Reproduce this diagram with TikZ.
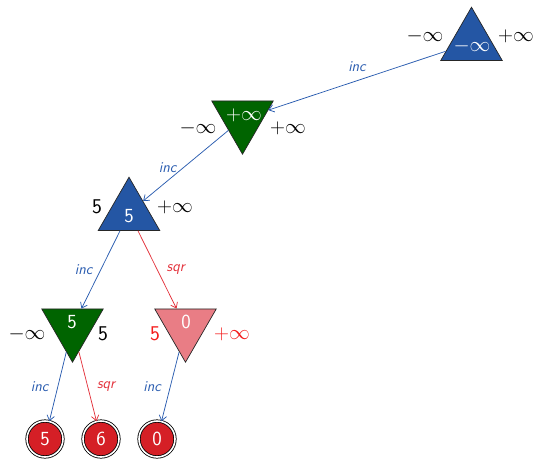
\documentclass[tikz,border=0pt]{standalone}
\usetikzlibrary{shapes.geometric,arrows.meta}
\definecolor{triblue}{HTML}{2456A4}
\definecolor{trigreen}{HTML}{006400}
\definecolor{tripink}{HTML}{E97D85}
\definecolor{leafred}{HTML}{D51F26}
\definecolor{edgeblue}{HTML}{2B5DB0}
\definecolor{edgered}{HTML}{E3323C}
\definecolor{sidered}{HTML}{F41C1C}
\tikzset{
  tri/.style={regular polygon, regular polygon sides=3, minimum size=71pt, inner sep=0pt, draw=black!85, line width=0.7pt},
  triup/.style={tri},
  tridown/.style={tri, shape border rotate=180},
  inlab/.style={text=white, font=\sffamily\fontsize{20}{24}\selectfont},
  sidelab/.style={font=\sffamily\fontsize{21}{25}\selectfont},
  leaf/.style={circle, minimum size=36pt, inner sep=0pt, fill=leafred, draw=black, line width=0.8pt, double=white, double distance=1.6pt, text=white, font=\sffamily\fontsize{20}{24}\selectfont},
  tipstyle/.style={-{Straight Barb[length=5pt,width=7.5pt]}, line width=0.75pt},
  bedge/.style={tipstyle, draw=edgeblue},
  redge/.style={tipstyle, draw=edgered},
  elab/.style={font=\sffamily\itshape\fontsize{15}{18}\selectfont, inner sep=0pt},
}
\begin{document}
\begin{tikzpicture}[x=1pt,y=-1pt]
\useasboundingbox (0,0) rectangle (535,461);
% triangles
\node[triup, fill=triblue] (r) at (471.5,42.7) {};
\node[tridown, fill=trigreen] (a) at (242.5,118.7) {};
\node[triup, fill=triblue] (b) at (129,212.7) {};
\node[tridown, fill=trigreen] (c) at (72.5,326.7) {};
\node[tridown, fill=tripink] (d) at (185.5,326.7) {};
% inner labels
\node[inlab] (rt) at (472,46) {$-\infty$};
\node[inlab] (at) at (244,115) {$+\infty$};
\node[inlab] (bt) at (129,216) {5};
\node[inlab] (ct) at (72,322) {5};
\node[inlab] (dt) at (186,322) {0};
% side labels
\node[sidelab] (rl) at (425,36) {$-\infty$};
\node[sidelab] (rr) at (516,36) {$+\infty$};
\node[sidelab] (al) at (198,128) {$-\infty$};
\node[sidelab] (ar) at (288,128) {$+\infty$};
\node[sidelab] (bl) at (97,207) {5};
\node[sidelab] (br) at (175,207) {$+\infty$};
\node[sidelab] (cl) at (27,334) {$-\infty$};
\node[sidelab] (cr) at (103,334) {5};
\node[sidelab, text=sidered] (dl) at (155,334) {5};
\node[sidelab, text=sidered] (dr) at (232,334) {$+\infty$};
% leaves
\node[leaf] (l1) at (45,439) {5};
\node[leaf] (l2) at (101,439) {6};
\node[leaf] (l3) at (157,439) {0};
% edges
\draw[bedge] (r) -- node[elab, text=edgeblue, midway, above=9pt] {inc} (a);
\draw[bedge] (a) -- node[elab, text=edgeblue, midway, left=9pt, yshift=-2pt] {inc} (b);
\draw[bedge] (b) -- node[elab, text=edgeblue, midway, left=8pt] {inc} (c);
\draw[redge] (b) -- node[elab, text=edgered, midway, right=9pt] {sqr} (d);
\draw[bedge] (c) -- node[elab, text=edgeblue, midway, left=9pt] {inc} (l1);
\draw[redge] (c) -- node[elab, text=edgered, midway, right=9pt] {sqr} (l2);
\draw[bedge] (d) -- node[elab, text=edgeblue, midway, left=9pt] {inc} (l3);
\end{tikzpicture}
\end{document}
